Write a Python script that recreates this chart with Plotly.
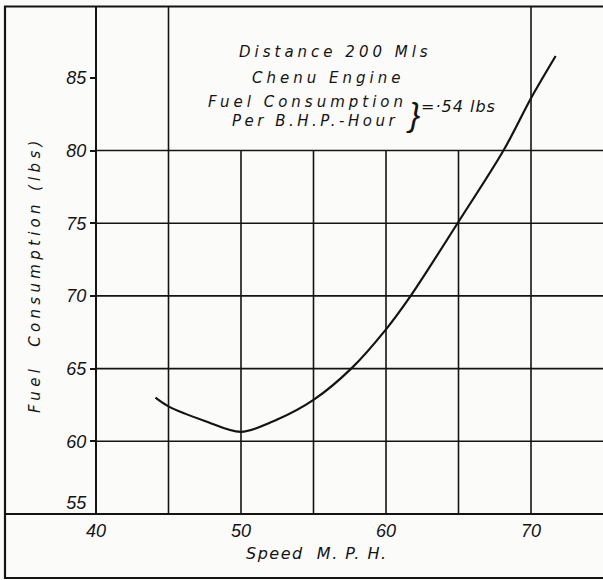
import plotly.graph_objects as go

# ---- data ----
speed_mph = [44.1, 45.0, 47.5, 50.0, 52.5, 55.0, 57.6, 60.0, 61.7, 65.0, 68.1, 70.0, 71.7]
fuel_lbs = [63.0, 62.4, 61.4, 60.65, 61.5, 62.85, 65.0, 67.7, 70.0, 75.1, 80.0, 83.6, 86.5]

x_tick_vals = [40, 50, 60, 70]
x_tick_text = ["40", "50", "60", "70"]
y_tick_vals = [55, 60, 65, 70, 75, 80, 85]
y_tick_text = ["55<br> ", "60", "65", "70", "75", "80", "85"]

x_grid_full = [45, 70]
x_grid_partial = [50, 55, 60, 65]
y_grid = [60, 65, 70, 75, 80]

box_lines = ["Distance 200 Mls", "Chenu Engine"]
consumption_label = ["Fuel Consumption", "Per B.H.P.-Hour"]
consumption_value = "=·54 lbs"
x_title = "Speed  M. P. H."
y_title = "Fuel  Consumption (lbs)"

# ---- layout geometry ----
W, H = 603, 580
ML, MR, MT, MB = 96, 0, 6, 66
XR = [40, 40 + (W - ML - MR) / 14.5]
YR = [55, 55 + (H - MT - MB) / 14.54]
pw, ph = W - ML - MR, H - MT - MB

def px_to_paper_x(px):
    return (px - ML) / pw

def px_to_paper_y(py):
    return (H - MB - py) / ph

INK = "#141414"
BG = "#fbfbfa"
FONT = "DejaVu Sans"

fig = go.Figure()
fig.add_trace(go.Scatter(
    x=speed_mph, y=fuel_lbs, mode="lines",
    line=dict(color=INK, width=2.2, shape="spline", smoothing=0.9),
    hoverinfo="skip", showlegend=False,
))

shapes = []
for yv in y_grid:
    shapes.append(dict(type="line", xref="paper", yref="y", x0=0, x1=1, y0=yv, y1=yv,
                       line=dict(color=INK, width=1.6)))
for xv in x_grid_full:
    shapes.append(dict(type="line", xref="x", yref="paper", x0=xv, x1=xv, y0=0, y1=1,
                       line=dict(color=INK, width=1.6)))
for xv in x_grid_partial:
    shapes.append(dict(type="line", xref="x", yref="y", x0=xv, x1=xv, y0=55, y1=80,
                       line=dict(color=INK, width=1.6)))
# left axis
shapes.append(dict(type="line", xref="paper", yref="paper", x0=0, x1=0, y0=0, y1=1,
                   line=dict(color=INK, width=2)))
# bottom axis extended to outer frame
shapes.append(dict(type="line", xref="paper", yref="paper", x0=px_to_paper_x(4), x1=1.01,
                   y0=0, y1=0, line=dict(color=INK, width=2)))
# outer frame: top, left, bottom
shapes.append(dict(type="line", xref="paper", yref="paper", x0=px_to_paper_x(4), x1=1.01,
                   y0=px_to_paper_y(6.5), y1=px_to_paper_y(6.5), line=dict(color=INK, width=2.2)))
shapes.append(dict(type="line", xref="paper", yref="paper", x0=px_to_paper_x(5), x1=px_to_paper_x(5),
                   y0=px_to_paper_y(6), y1=px_to_paper_y(578), line=dict(color=INK, width=2.2)))
shapes.append(dict(type="line", xref="paper", yref="paper", x0=px_to_paper_x(4), x1=1.01,
                   y0=px_to_paper_y(578), y1=px_to_paper_y(578), line=dict(color=INK, width=2)))

def sp(txt, ls):
    return f'<span style="letter-spacing:{ls}px">{txt}</span>'

def dx(px):
    return XR[0] + (px - ML) / 14.5

def dy(py):
    return YR[0] + (H - MB - py) / 14.54

box_font = dict(family=FONT, size=15, color=INK, style="italic")
ann = []
ann.append(dict(text=sp(box_lines[0], 4.0), x=dx(335), y=dy(52), xref="x", yref="y",
                showarrow=False, font=box_font))
ann.append(dict(text=sp(box_lines[1], 4.0), x=dx(328), y=dy(78), xref="x", yref="y",
                showarrow=False, font=box_font))
ann.append(dict(text=sp(consumption_label[0], 4.0), x=dx(409), y=dy(102), xref="x", yref="y",
                xanchor="right", showarrow=False, font=box_font))
ann.append(dict(text=sp(consumption_label[1], 3.5), x=dx(400), y=dy(121), xref="x", yref="y",
                xanchor="right", showarrow=False, font=box_font))
ann.append(dict(text="}", x=dx(413), y=dy(114), xref="x", yref="y", showarrow=False,
                font=dict(family="Liberation Sans", size=34, color=INK, style="italic")))
ann.append(dict(text=sp(consumption_value, 1), x=dx(419), y=dy(106), xref="x", yref="y",
                xanchor="left", showarrow=False,
                font=dict(family=FONT, size=16, color=INK, style="italic")))
# axis titles
ann.append(dict(text=sp(x_title, 1.5), x=px_to_paper_x(317), y=px_to_paper_y(553),
                xref="paper", yref="paper", xanchor="center", yanchor="middle", showarrow=False,
                font=dict(family=FONT, size=16, color=INK, style="italic")))
ann.append(dict(text=sp(y_title, 4.3), x=px_to_paper_x(35), y=px_to_paper_y(275),
                xref="paper", yref="paper", xanchor="center", yanchor="middle",
                textangle=-90, showarrow=False,
                font=dict(family=FONT, size=15, color=INK, style="italic")))

fig.update_layout(
    width=W, height=H,
    margin=dict(l=ML, r=MR, t=MT, b=MB, pad=0),
    paper_bgcolor=BG, plot_bgcolor=BG,
    shapes=shapes, annotations=ann,
    xaxis=dict(range=XR, showgrid=False, zeroline=False, showline=False,
               tickvals=x_tick_vals, ticktext=x_tick_text, ticks="",
               ticklabelstandoff=4,
               tickfont=dict(family="Liberation Sans", size=18, color=INK, style="italic"),
               fixedrange=True),
    yaxis=dict(range=YR, showgrid=False, zeroline=False, showline=False,
               tickvals=y_tick_vals, ticktext=y_tick_text, ticks="outside", ticklen=5,
               tickwidth=1.5, tickcolor=INK, ticklabelstandoff=0,
               tickfont=dict(family="Liberation Sans", size=18, color=INK, style="italic"),
               fixedrange=True),
    showlegend=False,
)

fig.write_html("out.html", config={"displayModeBar": False},
               post_script="document.body.style.margin='0px';document.body.style.overflow='hidden';")
